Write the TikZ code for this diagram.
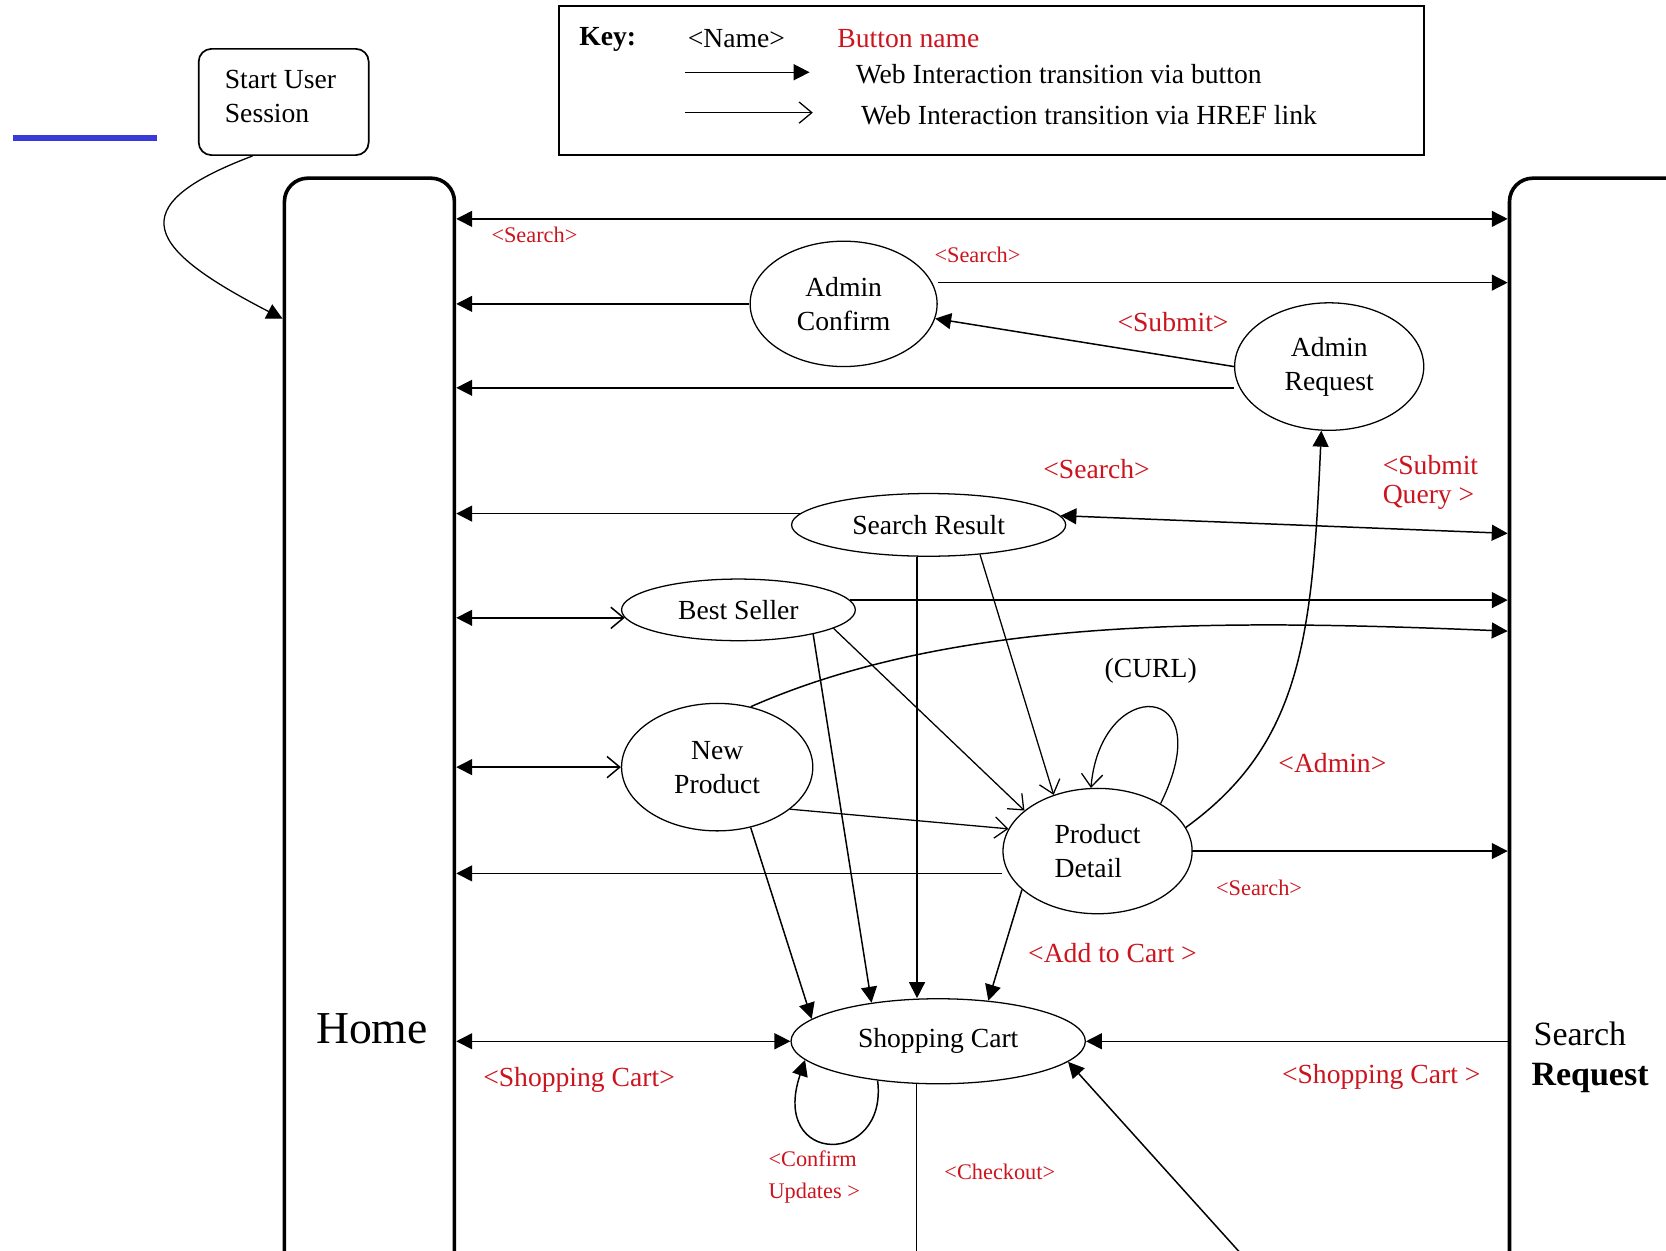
\documentclass[tikz,border=0pt]{standalone}
\usepackage{fontspec}
\setmainfont{Liberation Serif}
\usetikzlibrary{arrows.meta}
\usetikzlibrary{shapes.geometric}
\definecolor{btnred}{RGB}{204,20,30}
\definecolor{rulerblue}{RGB}{58,58,214}

\begin{document}
\begin{tikzpicture}[x=0.5pt,y=-0.5pt,
    screen/.style={draw,ellipse,line width=0.6pt,inner sep=0pt,align=center,font=\fontsize{13}{16}\selectfont},
    lane/.style={draw,line width=1.7pt,rounded corners=11pt,anchor=north west,minimum width=80pt,minimum height=600pt},
    btn/.style={line width=0.7pt,-{Triangle[length=7.5pt,width=7.5pt]}},
    bothbtn/.style={line width=0.7pt,{Triangle[length=7.5pt,width=7.5pt]}-{Triangle[length=7.5pt,width=7.5pt]}},
    hreflink/.style={line width=0.6pt,-{Straight Barb[length=6pt,width=10pt]}},
    btnlink/.style={line width=0.7pt,{Triangle[length=7.5pt,width=7.5pt]}-{Straight Barb[length=6pt,width=10pt]}},
    lbl/.style={text=btnred,inner sep=0pt,font=\fontsize{13}{14}\selectfont},
    smalllbl/.style={text=btnred,inner sep=0pt,font=\fontsize{10.5}{15}\selectfont},
    txt/.style={inner sep=0pt,font=\fontsize{13}{16}\selectfont}]
		\useasboundingbox (0,0) rectangle (1568,1177);
		\clip (0,0) rectangle (1568,1177);

		\draw[rulerblue,line width=2.5pt] (12,130) -- (148,130);

		% key
		\node[draw,line width=0.9pt,minimum width=407pt,minimum height=70pt] (key) at (933,76) {};
		\node[txt,font=\fontsize{13}{16}\selectfont\bfseries] (keyname) at (572,37) {Key:};
		\node[txt] (namefmt) at (693,36) {<Name>};
		\node[lbl] (btnfmt) at (855,36) {Button name};
		\coordinate (keybtn) at (645,68);
		\draw[btn] (keybtn) -- ++(117,0);
		\node[txt,anchor=west] (keybtntxt) at (805,70) {Web Interaction transition via button};
		\coordinate (keylink) at (645,106);
		\draw[hreflink] (keylink) -- ++(120,0);
		\node[txt,anchor=west] (keylinktxt) at (810,108) {Web Interaction transition via HREF link};

		% lanes
		\node[lane] (home) at (266,166) {};
		\node[lane,minimum width=150pt] (sreq) at (1419,166) {};
		\node[inner sep=0pt,font=\fontsize{21.5}{24}\selectfont] (homelbl) at (350,968) {Home};
		\node[inner sep=0pt,anchor=west,font=\fontsize{16}{18}\selectfont] (sreqlbl) at (1443,973) {Search};
		\node[inner sep=0pt,anchor=west,font=\fontsize{16}{18}\selectfont\bfseries] (sreqlbl2) at (1441,1015) {Request};

		% start
		\node[draw,line width=0.8pt,rounded corners=6pt,minimum width=80pt,minimum height=50pt] (start) at (267,96) {};
		\node[txt,align=left] (starttxt) at (264,91) {Start User\\Session};
		\coordinate (homeentry) at (0,300);
		\draw[line width=0.6pt,-{Triangle[length=7.5pt,width=7.5pt]}] (start.240) .. controls (110,195) and (140,235) .. (home.west |- homeentry);

		% screens
		\node[screen,minimum width=88pt,minimum height=59pt] (ac) at (794,286) {Admin\\Confirm};
		\node[screen,minimum width=89pt,minimum height=60pt] (ar) at (1251,345) {Admin\\Request};
		\node[screen,minimum width=129pt,minimum height=29.5pt] (sres) at (874,494) {Search Result};
		\node[screen,minimum width=110pt,minimum height=29pt] (bs) at (695,574) {Best Seller};
		\node[screen,minimum width=90pt,minimum height=60pt] (np) at (675,722) {New\\Product};
		\node[screen,minimum width=89pt,minimum height=59pt,align=left] (pd) at (1033,801) {Product\\Detail};
		\node[screen,minimum width=138.5pt,minimum height=40pt] (sc) at (883,980) {Shopping Cart};

		% rows between the lanes
		\coordinate (r1) at (0,206);
		\draw[bothbtn] (r1 -| home.east) -- (r1 -| sreq.west);
		\node[smalllbl] (lsearch1) at (503,221) {<Search>};

		\coordinate (r2) at (0,266);
		\draw[btn] (r2 -| ac.east) -- (r2 -| sreq.west);
		\node[smalllbl] (lsearch2) at (920,240) {<Search>};
		\draw[btn] (ac.west) -- (ac.west -| home.east);

		\draw[btn] (ar.west) -- (ac);
		\node[lbl] (lsubmit) at (1104,303) {<Submit>};
		\coordinate (r5) at (0,365);
		\draw[btn] (r5 -| ar.west) -- (r5 -| home.east);

		\draw[btn] (sres.175) -- (sres.175 -| home.east);
		\coordinate (r7) at (0,502);
		\draw[bothbtn] (sres.4) -- (r7 -| sreq.west);
		\node[lbl] (lsearch3) at (1032,441) {<Search>};
		\node[lbl,align=left,anchor=west] (lquery) at (1301,454) {<Submit\\Query >};

		\draw[btnlink] (home.east |- bs.184) -- (bs.184);
		\draw[btn] (bs.5) -- (bs.5 -| sreq.west);
		\coordinate (r10) at (0,594);
		\draw[btn] (np.61) .. controls (900,580) and (1150,583) .. (r10 -| sreq.west);
		\draw[btnlink] (home.east |- np.west) -- (np.west);

		\coordinate (r12) at (0,822);
		\draw[btn] (r12 -| pd.west) -- (r12 -| home.east);
		\draw[btn] (pd.east) -- (pd.east -| sreq.west);
		\node[smalllbl] (lsearch4) at (1185,836) {<Search>};

		\draw[btn] (pd.15) .. controls (1225,700) and (1235,600) .. (ar.263);
		\node[lbl] (ladmin) at (1254,718) {<Admin>};
		\draw[hreflink] (pd.37) .. controls (1150,640) and (1036,635) .. (pd.96);
		\node[txt] (lcurl) at (1083,631) {(CURL)};

		% into product detail and shopping cart
		\draw[btn] (sres.250) -- (sres.250 |- sc.north);
		\draw[hreflink] (sres.-30) -- (pd.128);
		\draw[btn] (bs.-18) -- (sc.150);
		\draw[hreflink] (bs.-11) -- (pd.151);
		\draw[hreflink] (np.-30) -- (pd.166);
		\draw[btn] (np.-61) -- (sc.170);
		\draw[btn] (pd.207) -- (sc.39);
		\node[lbl] (laddcart) at (1047,897) {<Add to Cart >};

		\draw[bothbtn] (home.east |- sc.west) -- (sc.west);
		\node[lbl] (lcart1) at (545,1016) {<Shopping Cart>};
		\draw[btn] (sc.east -| sreq.west) -- (sc.east);
		\node[lbl] (lcart2) at (1300,1014) {<Shopping Cart >};

		\draw[btn] (sc.213) .. controls (836,1098) and (724,1098) .. (sc.188);
		\node[smalllbl,align=left,anchor=west] (lconfirm) at (723,1108) {<Confirm\\Updates >};
		\coordinate (checkoutend) at (0,1190);
		\draw[line width=0.7pt] (sc.243) -- (sc.243 |- checkoutend);
		\node[smalllbl] (lcheckout) at (941,1103) {<Checkout>};
		\coordinate (payin) at (1177,1190);
		\draw[btn] (payin) -- (sc.-9);
	\end{tikzpicture}
\end{document}
